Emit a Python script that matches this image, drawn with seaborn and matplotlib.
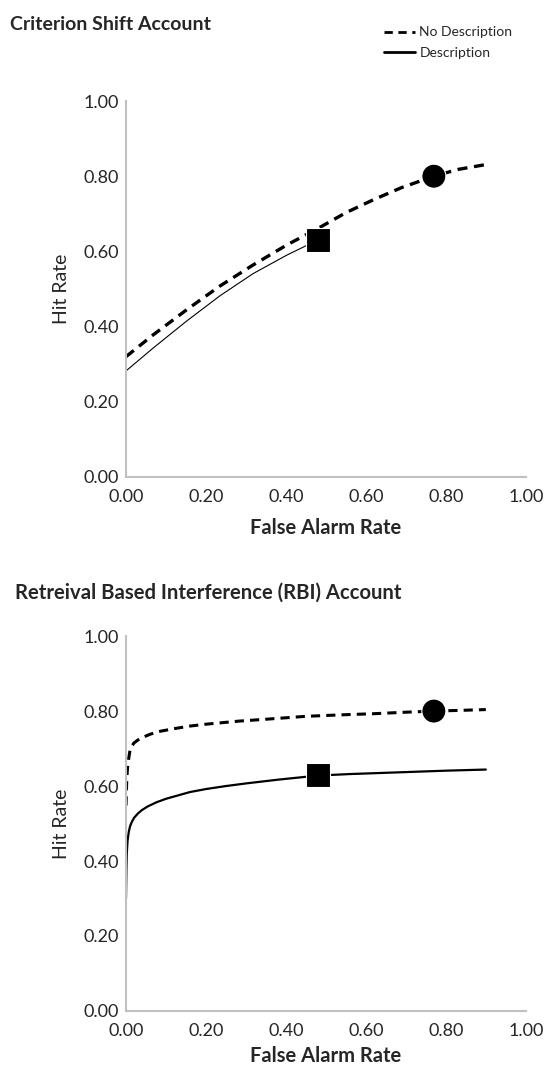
import numpy as np
import pandas as pd
import matplotlib
matplotlib.use("Agg")
import matplotlib.pyplot as plt
import seaborn as sns

sns.set_style("white")
plt.rcParams['font.family'] = ['Lato', 'DejaVu Sans']

# ---- data ----
# Criterion shift account
cs_nodesc_far = [0.00, 0.068, 0.152, 0.235, 0.318, 0.402, 0.485, 0.55, 0.62, 0.69, 0.77, 0.83, 0.90]
cs_nodesc_hr = [0.320, 0.378, 0.445, 0.508, 0.564, 0.617, 0.664, 0.703, 0.738, 0.770, 0.800, 0.818, 0.831]
cs_desc_far = [0.00, 0.068, 0.152, 0.235, 0.318, 0.402, 0.456, 0.48]
cs_desc_hr = [0.282, 0.343, 0.415, 0.482, 0.541, 0.590, 0.618, 0.630]

# Retrieval based interference account
rbi_nodesc_far = [0.000, 0.002, 0.004, 0.007, 0.010, 0.015, 0.020, 0.030, 0.040, 0.060, 0.080, 0.12, 0.16, 0.20, 0.28, 0.36, 0.45, 0.54, 0.62, 0.70, 0.77, 0.84, 0.90]
rbi_nodesc_hr = [0.548, 0.620, 0.650, 0.675, 0.695, 0.707, 0.715, 0.723, 0.729, 0.738, 0.745, 0.753, 0.760, 0.765, 0.773, 0.779, 0.786, 0.790, 0.793, 0.797, 0.800, 0.802, 0.804]
rbi_desc_far = [0.000, 0.001, 0.002, 0.004, 0.007, 0.010, 0.014, 0.020, 0.030, 0.040, 0.055, 0.077, 0.10, 0.13, 0.16, 0.20, 0.25, 0.30, 0.38, 0.48, 0.56, 0.64, 0.72, 0.80, 0.90]
rbi_desc_hr = [0.300, 0.380, 0.420, 0.455, 0.478, 0.492, 0.503, 0.515, 0.527, 0.536, 0.546, 0.557, 0.566, 0.575, 0.584, 0.592, 0.600, 0.607, 0.617, 0.628, 0.632, 0.635, 0.638, 0.641, 0.644]

point_labels = ["Description", "No Description"]
point_far = [0.48, 0.77]
point_hr = [0.63, 0.80]

fig = plt.figure(figsize=(5.44, 10.68), dpi=100)
ax1 = fig.add_axes([0.2316, 0.5534, 0.735, 0.352])
ax2 = fig.add_axes([0.2316, 0.0534, 0.735, 0.351])

def draw(ax, nd_x, nd_y, d_x, d_y, nd_lw, d_lw, xpad):
    sns.lineplot(x=nd_x, y=nd_y, ax=ax, color="black", lw=nd_lw, sort=False,
                 linestyle=(0, (3, 2)), label="No Description")
    sns.lineplot(x=d_x, y=d_y, ax=ax, color="black", lw=d_lw, sort=False,
                 label="Description")
    pts = pd.DataFrame({"far": point_far, "hr": point_hr, "cond": point_labels})
    sns.scatterplot(data=pts, x="far", y="hr", style="cond",
                    markers={"Description": "s", "No Description": "o"},
                    color="black", s=300, edgecolor="white", linewidth=0.8,
                    ax=ax, legend=False, zorder=5)
    ax.set_xlim(0, 1)
    ax.set_ylim(0, 1)
    ticks = [0, 0.2, 0.4, 0.6, 0.8, 1.0]
    ax.set_xticks(ticks)
    ax.set_yticks(ticks)
    ax.set_xticklabels([f"{t:.2f}" for t in ticks], fontsize=13)
    ax.set_yticklabels([f"{t:.2f}" for t in ticks], fontsize=13)
    ax.tick_params(axis="x", length=0, pad=9)
    ax.tick_params(axis="y", length=0, pad=5)
    for s in ["top", "right"]:
        ax.spines[s].set_visible(False)
    for s in ["left", "bottom"]:
        ax.spines[s].set_color("#c0c0c0")
        ax.spines[s].set_linewidth(1.5)
    ax.set_xlabel("False Alarm Rate", fontsize=14.5, fontweight="bold", labelpad=xpad)
    ax.set_ylabel("Hit Rate", fontsize=14, labelpad=10)

draw(ax1, cs_nodesc_far, cs_nodesc_hr, cs_desc_far, cs_desc_hr, 2.4, 0.8, 9)
draw(ax2, rbi_nodesc_far, rbi_nodesc_hr, rbi_desc_far, rbi_desc_hr, 2.2, 1.6, 5)

handles, labels = ax1.get_legend_handles_labels()
for a in (ax1, ax2):
    if a.get_legend():
        a.get_legend().remove()
leg = fig.legend(handles[:2], labels[:2], loc="upper right",
                 bbox_to_anchor=(0.965, 0.987), frameon=False, fontsize=10,
                 handlelength=2.2, handletextpad=0.35, labelspacing=0.6)
for h in leg.get_lines():
    h.set_linewidth(2.0)

fig.text(0.018, 0.9766, "Criterion Shift Account", fontsize=14,
         fontweight="bold", va="center", ha="left")
fig.text(0.027, 0.4447, "Retreival Based Interference (RBI) Account", fontsize=14.6,
         fontweight="bold", va="center", ha="left")

fig.savefig("out.png", dpi=100)
